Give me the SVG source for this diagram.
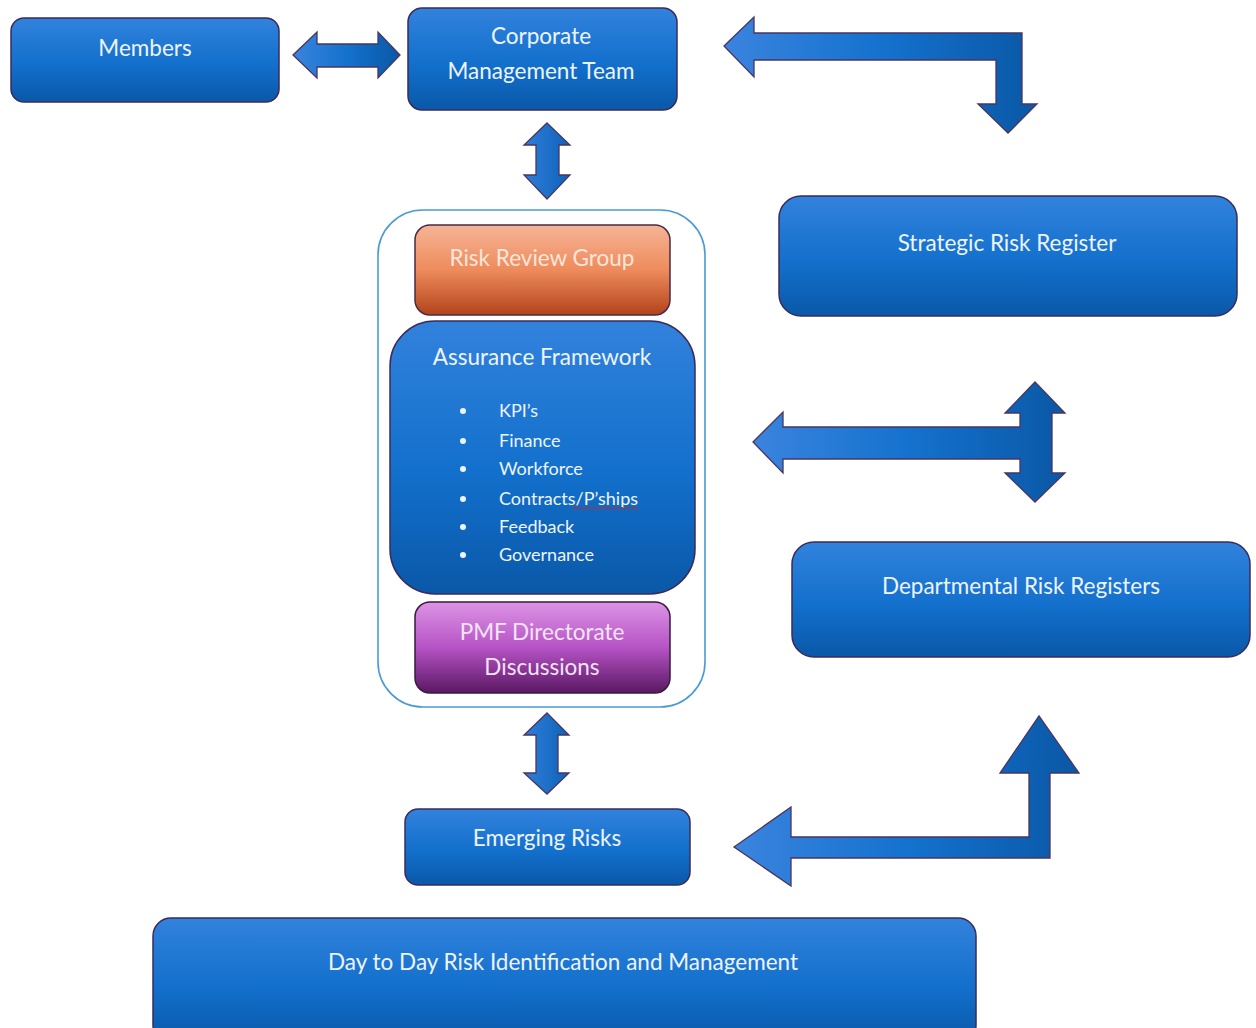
<svg xmlns="http://www.w3.org/2000/svg" width="1256" height="1028" viewBox="0 0 1256 1028">
<defs>
<linearGradient id="gBox" x1="0" y1="0" x2="0" y2="1">
<stop offset="0" stop-color="#3282DC"/>
<stop offset="0.55" stop-color="#1270CC"/>
<stop offset="1" stop-color="#0A58A8"/>
</linearGradient>
<linearGradient id="gOrange" x1="0" y1="0" x2="0" y2="1">
<stop offset="0" stop-color="#F6B496"/>
<stop offset="0.5" stop-color="#EE8B5C"/>
<stop offset="1" stop-color="#B2431A"/>
</linearGradient>
<linearGradient id="gPurple" x1="0" y1="0" x2="0" y2="1">
<stop offset="0" stop-color="#DC94E4"/>
<stop offset="0.5" stop-color="#B653C6"/>
<stop offset="1" stop-color="#5A1862"/>
</linearGradient>
<linearGradient id="gArrowH" x1="0" y1="0" x2="1" y2="0">
<stop offset="0" stop-color="#3A84DE"/>
<stop offset="0.5" stop-color="#1472CE"/>
<stop offset="1" stop-color="#0A58A6"/>
</linearGradient>
<linearGradient id="gArrowV" x1="0" y1="0" x2="1" y2="0">
<stop offset="0" stop-color="#2E7ED8"/>
<stop offset="1" stop-color="#0E62B8"/>
</linearGradient>
<style>
.box{fill:url(#gBox);stroke:#3B2B5C;stroke-width:1.5}
.arr{stroke:#4A3560;stroke-width:1.3;stroke-linejoin:miter}
.t{font-family:Lato,"Open Sans","Liberation Sans",sans-serif;fill:#EEF4FF;text-anchor:middle;font-size:22.5px}
.li{font-family:Lato,"Open Sans","Liberation Sans",sans-serif;fill:#EEF4FF;font-size:18px}
</style>
</defs>

<g id="connectors">
<polygon class="arr" fill="url(#gArrowH)" points="293,55 317,32 317,44 378,44 378,32 400,55 378,78 378,67 317,67 317,78"/>
<polygon class="arr" fill="url(#gArrowV)" points="547,123 570,145 559,145 559,175 570,175 547,199 524,175 536,175 536,145 524,145"/>
<polygon class="arr" fill="url(#gArrowV)" points="547,713 569,735 558,735 558,773 569,773 547,794 524,773 536,773 536,735 524,735"/>
<polygon class="arr" fill="url(#gArrowH)" points="724,46 754,17 754,33 1022,33 1022,104 1037,104 1008,133 978,104 996,104 996,60 754,60 754,77"/>
<polygon class="arr" fill="url(#gArrowH)" points="753,442 783,412 783,427 1020,427 1020,413 1005,413 1035,382 1065,413 1052,413 1052,473 1065,473 1035,502 1005,473 1020,473 1020,459 783,459 783,473"/>
<polygon class="arr" fill="url(#gArrowH)" points="734,847 791,807 791,837 1029,837 1029,773 1000,773 1039,716 1079,773 1050,773 1050,858 791,858 791,886"/>
</g>

<g id="members">
<rect class="box" x="11" y="18" width="268" height="84" rx="13"/>
<text class="t" x="145" y="56">Members</text>
</g>

<g id="cmt">
<rect class="box" x="408" y="8" width="269" height="102" rx="14"/>
<text class="t" x="541" y="44">Corporate</text>
<text class="t" x="541" y="79">Management Team</text>
</g>

<g id="container">
<rect x="378" y="210" width="327" height="497" rx="45" fill="#FFFFFF" stroke="#4A9AD8" stroke-width="1.6"/>
</g>

<g id="rrg">
<rect x="415" y="225" width="255" height="90" rx="15" fill="url(#gOrange)" stroke="#4A2A48" stroke-width="1.5"/>
<text class="t" x="542" y="266" style="fill:#FCE6DA">Risk Review Group</text>
</g>

<g id="assurance">
<rect class="box" x="390" y="321" width="305" height="273" rx="45"/>
<text class="t" x="542" y="365">Assurance Framework</text>
<g fill="#EEF4FF">
<circle cx="463" cy="411" r="3"/>
<circle cx="463" cy="441" r="3"/>
<circle cx="463" cy="469" r="3"/>
<circle cx="463" cy="499" r="3"/>
<circle cx="463" cy="527" r="3"/>
<circle cx="463" cy="555" r="3"/>
</g>
<text class="li" x="499" y="417">KPI’s</text>
<text class="li" x="499" y="447">Finance</text>
<text class="li" x="499" y="475">Workforce</text>
<text class="li" x="499" y="505">Contracts/P’ships</text>
<text class="li" x="499" y="533">Feedback</text>
<text class="li" x="499" y="561">Governance</text>
<path d="M572,509 l2,-2 l2,2 l2,-2 l2,2 l2,-2 l2,2 l2,-2 l2,2 l2,-2 l2,2 l2,-2 l2,2 l2,-2 l2,2 l2,-2 l2,2 l2,-2 l2,2 l2,-2 l2,2 l2,-2 l2,2 l2,-2 l2,2 l2,-2 l2,2 l2,-2 l2,2 l2,-2 l2,2 l2,-2 l2,2 l2,-2" fill="none" stroke="#D42020" stroke-width="1"/>
</g>

<g id="pmf">
<rect x="415" y="602" width="255" height="91" rx="15" fill="url(#gPurple)" stroke="#3A1A40" stroke-width="1.5"/>
<text class="t" x="542" y="640" style="fill:#F4E4F6">PMF Directorate</text>
<text class="t" x="542" y="675" style="fill:#F4E4F6">Discussions</text>
</g>

<g id="strategic">
<rect class="box" x="779" y="196" width="458" height="120" rx="22"/>
<text class="t" x="1007" y="251">Strategic Risk Register</text>
</g>

<g id="departmental">
<rect class="box" x="792" y="542" width="458" height="115" rx="22"/>
<text class="t" x="1021" y="594">Departmental Risk Registers</text>
</g>

<g id="emerging">
<rect class="box" x="405" y="809" width="285" height="76" rx="13"/>
<text class="t" x="547" y="846">Emerging Risks</text>
</g>

<g id="daytoday">
<rect class="box" x="153" y="918" width="823" height="125" rx="18"/>
<text class="t" x="563" y="970">Day to Day Risk Identification and Management</text>
</g>
</svg>
